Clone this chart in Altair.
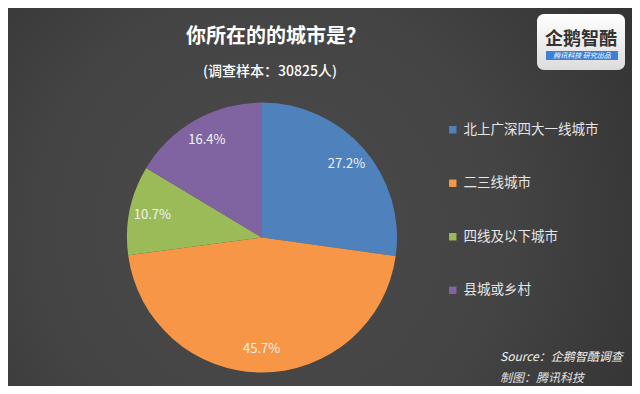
import altair as alt
import pandas as pd

categories = ["北上广深四大一线城市", "二三线城市", "四线及以下城市", "县城或乡村"]
values = [27.2, 45.7, 10.7, 16.4]
colors = ["#4F81BD", "#F79646", "#9BBB59", "#8064A2"]

title_text = "你所在的的城市是？"
subtitle_text = "(调查样本：30825人)"
source_line1 = "Source：企鹅智酷调查"
source_line2 = "制图：腾讯科技"

FONT = "Noto Sans CJK SC"

df = pd.DataFrame({
    "cat": categories,
    "value": values,
    "order": list(range(len(categories))),
    "label": [f"{v:.1f}%" for v in values],
})

one = pd.DataFrame({"a": [0]})

bg = alt.Chart(one).mark_rect(
    fill=alt.Gradient(
        gradient="radial",
        stops=[alt.GradientStop(color="#4a4a4a", offset=0),
               alt.GradientStop(color="#444444", offset=0.5),
               alt.GradientStop(color="#2f2f2f", offset=1)],
        x1=0.42, y1=0.55, x2=0.42, y2=0.55, r1=0, r2=0.75,
    )
).encode(x=alt.value(0), x2=alt.value(624), y=alt.value(0), y2=alt.value(378))

base = alt.Chart(df).encode(
    theta=alt.Theta("value:Q", stack=True),
    order=alt.Order("order:Q"),
)

pie = base.mark_arc(outerRadius=135).encode(
    color=alt.Color(
        "cat:N",
        scale=alt.Scale(domain=categories, range=colors),
        sort=categories,
        legend=alt.Legend(
            title=None, orient="none", legendX=438, legendY=115,
            symbolType="square", symbolSize=55, symbolStrokeWidth=0,
            labelColor="#e6e6e6", labelFontSize=13.5, labelFont=FONT,
            rowPadding=38.5, labelLimit=300, symbolOffset=0, labelOffset=4,
        ),
    ),
    x=alt.value(254), y=alt.value(229.5),
)

labels = base.mark_text(radius=112, fontSize=13, font=FONT, color="#f2f2f2").encode(
    text="label:N", x=alt.value(254), y=alt.value(229.5),
)

title = alt.Chart(pd.DataFrame({"t": [title_text]})).mark_text(
    fontSize=20, fontWeight="bold", font=FONT, color="#ffffff", align="center", baseline="middle"
).encode(text="t:N", x=alt.value(268), y=alt.value(29))

subtitle = alt.Chart(pd.DataFrame({"t": [subtitle_text]})).mark_text(
    fontSize=14, fontWeight=500, font=FONT, color="#ffffff", align="center", baseline="middle"
).encode(text="t:N", x=alt.value(262), y=alt.value(64))

src1 = alt.Chart(pd.DataFrame({"t": [source_line1]})).mark_text(
    fontSize=12, fontStyle="italic", font=FONT, color="#f0f0f0", align="left", baseline="middle"
).encode(text="t:N", x=alt.value(492), y=alt.value(349))

src2 = alt.Chart(pd.DataFrame({"t": [source_line2]})).mark_text(
    fontSize=12, fontStyle="italic", font=FONT, color="#e0e0e0", align="left", baseline="middle"
).encode(text="t:N", x=alt.value(492), y=alt.value(370))

logo_box = alt.Chart(one).mark_rect(
    cornerRadius=7,
    fill=alt.Gradient(gradient="linear", stops=[alt.GradientStop(color="#ffffff", offset=0),
                                                 alt.GradientStop(color="#dcdcdc", offset=1)],
                      x1=0, y1=0, x2=0, y2=1),
).encode(x=alt.value(529), x2=alt.value(617), y=alt.value(6), y2=alt.value(62))

logo_bar = alt.Chart(one).mark_rect(fill="#3f7fd6").encode(
    x=alt.value(538), x2=alt.value(610), y=alt.value(43), y2=alt.value(52))

logo_text = alt.Chart(pd.DataFrame({"t": ["企鹅智酷"]})).mark_text(
    fontSize=18, fontWeight="bold", font=FONT, color="#333333", align="center", baseline="middle"
).encode(text="t:N", x=alt.value(573), y=alt.value(32))

logo_sub = alt.Chart(pd.DataFrame({"t": ["腾讯科技  研究出品"]})).mark_text(
    fontSize=7, fontStyle="italic", font=FONT, color="#ffffff", align="center", baseline="middle"
).encode(text="t:N", x=alt.value(574), y=alt.value(47.5))

chart = alt.layer(bg, pie, labels, title, subtitle, src1, src2, logo_box, logo_bar, logo_text, logo_sub).properties(
    width=624, height=378, autosize=alt.AutoSizeParams(type="none"), padding=0,
    background="#3a3a3a",
).configure_view(stroke=None)

chart.save("out.html", embed_options={"renderer": "svg", "actions": False})
